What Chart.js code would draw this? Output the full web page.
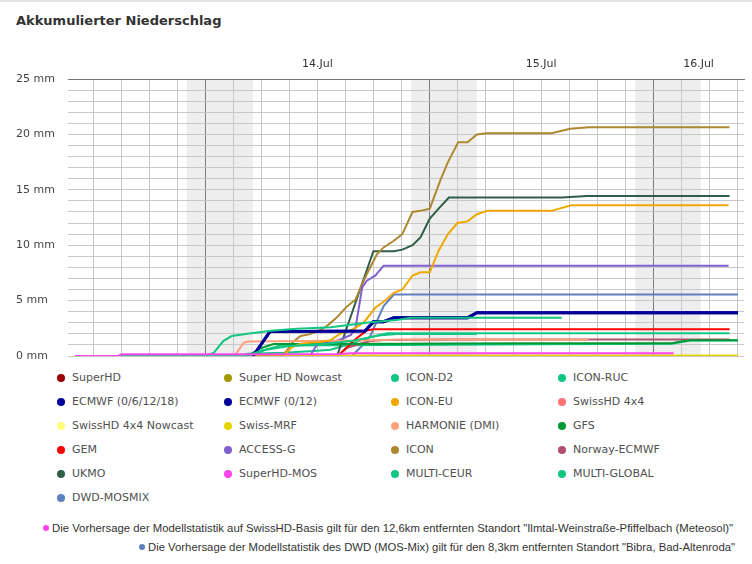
<!DOCTYPE html>
<html><head><meta charset="utf-8">
<script src="https://cdn.jsdelivr.net/npm/chart.js@4/dist/chart.umd.min.js"></script>
<style>
html,body{margin:0;padding:0;background:#fff;width:752px;height:564px;overflow:hidden;position:relative;font-family:"DejaVu Sans",sans-serif}
#topline{position:absolute;left:0;top:0;width:752px;height:2px;background:#e2e2e2}
#title{position:absolute;left:16px;top:13px;font:bold 13px/15px "DejaVu Sans",sans-serif;color:#333;white-space:nowrap}
#wrap{position:absolute;left:0;top:41px;width:752px;height:322px}
.li{position:absolute;height:14px;font:11px/14px "DejaVu Sans",sans-serif;color:#505050;white-space:nowrap}
.li i{position:absolute;left:0;top:3px;width:8px;height:8px;border-radius:50%}
.li span{position:absolute;left:15px;top:0}
.fn{position:absolute;height:14px;font:11px/14px "Liberation Sans",Arial,sans-serif;color:#333;white-space:nowrap}
.fn i{position:absolute;top:4px;width:6px;height:6px;border-radius:50%}
.fn span{position:absolute;top:0;transform-origin:0 50%;display:inline-block}
</style>
</head><body>
<div id="topline"></div>
<div id="title">Akkumulierter Niederschlag</div>
<div id="wrap"><canvas id="c"></canvas></div>
<div id="legend"></div>
<div id="notes"></div>
<script>
// time axis: hours since 13 Jul 00:00
const dayLabels = ['14.Jul', '15.Jul', '16.Jul'];
const dayStarts = [24, 48, 72];
const nightSpans = [[22.0, 29.1], [46.05, 53.1], [70.1, 77.1]];
const yTickValues = [0,1,2,3,4,5,6,7,8,9,10,11,12,13,14,15,16,17,18,19,20,21,22,23,24,25];

// series values: [hour, mm]
const SuperHD = [];
const SuperHDNowcast = [];
const ICON_D2 = [[10,0],[24,0],[24.9,0.3],[25.9,1.35],[26.8,1.8],[28.9,2.05],[31.3,2.3],[33.8,2.45],[37.4,2.6],[41.7,3.05],[44.5,3.25],[46,3.45],[62.2,3.45]];
const ICON_RUC = [[10,0],[28.5,0],[30,0.5],[33,0.9],[37,1.1],[40,1.4],[42.5,1.85],[44.5,1.98],[53.1,1.98]];
const ECMWF_6h = [[29.1,0],[30.9,2.2],[41.1,2.25],[42.0,3.1],[43.1,3.1],[44.2,3.45],[52.1,3.45],[53.1,3.9],[81.1,3.9]];
const ECMWF_12h = [[29.1,0],[30.9,2.2],[41.1,2.25],[42.0,3.1],[43.1,3.1],[44.2,3.45],[52.1,3.45],[53.1,3.9],[81.1,3.9]];
const ICON_EU = [[10,0],[32.3,0],[33.3,0.8],[34.2,1.1],[35.2,1.2],[36.1,1.25],[37.35,1.4],[38.4,2.0],[39.9,2.45],[41,3.05],[42.2,4.35],[43.1,4.9],[44.2,5.7],[45.1,6.0],[46.2,7.25],[47.05,7.55],[48.05,7.55],[49,9.5],[50,11.0],[51,12.0],[52.1,12.15],[53.1,12.8],[54.2,13.1],[61.1,13.1],[63.2,13.6],[80.1,13.6]];
const SwissHD4x4 = [];
const SwissHD4x4Nowcast = [];
const SwissMRF = [[10,0],[36,0],[40,0.05],[81.1,0.05]];
const HARMONIE = [[10,0],[27.1,0],[28.1,1.2],[28.6,1.3],[41,1.4],[45,1.48],[65.1,1.5]];
const GFS = [[10,0],[28.5,0],[29.9,0.7],[31.3,1.08],[45,1.1],[58,1.15],[74,1.15],[75,1.3],[76,1.42],[81.1,1.42]];
const GEM = [[10,0],[38.2,0],[39.9,1.4],[41.3,2.3],[42,2.42],[80.2,2.42]];
const ACCESS_G = [[10,0],[35.2,0],[36,1.1],[37,1.24],[37.75,1.24],[39.6,1.9],[40.1,2.6],[40.8,6.2],[41.3,6.8],[42.2,7.25],[43.1,8.15],[80.1,8.15]];
const ICON = [[10,0],[32.3,0],[33.4,1.3],[34.2,1.8],[35.1,1.95],[36,2.2],[37,2.7],[38.1,3.5],[39.2,4.5],[40.1,5.1],[40.8,6.5],[41.3,7.4],[42.4,9.2],[43.1,9.8],[44.2,10.4],[45.1,11.0],[46.2,13.0],[47.05,13.1],[48.05,13.3],[49.2,15.9],[50,17.5],[51.1,19.3],[52.1,19.3],[53.1,20.0],[54.1,20.1],[61.1,20.1],[63.1,20.5],[65.1,20.65],[80.2,20.65]];
const NorwayECMWF = [[10,0],[38.1,0],[39.2,0.75],[40.6,1.1],[41.7,1.35],[43.1,1.45],[50,1.5],[80.2,1.5]];
const UKMO = [[10,0],[38.1,0],[42,9.45],[44.2,9.45],[45.1,9.6],[46.2,10.0],[47.05,10.7],[48.05,12.4],[49,13.3],[50.1,14.3],[62.2,14.3],[64.9,14.45],[80.2,14.45]];
const SuperHD_MOS = [[10,0],[14.6,0],[15,0.15],[38.2,0.15],[39.5,0.25],[74.2,0.25]];
const MULTI_CEUR = [[10,0],[27.5,0],[28.5,0.2],[32.4,0.3],[35.6,0.45],[37.4,0.57],[39.5,1.09],[41.7,1.7],[43.5,2.05],[80.2,2.05]];
const MULTI_GLOBAL = [[10,0],[29,0],[30.5,0.6],[32,0.95],[45,1.0],[60,1.05],[74,1.1],[76,1.4],[81.1,1.4]];
const DWD_MOSMIX = [[10,0],[39.7,0],[41,1.1],[41.7,1.85],[42.4,3.2],[43.1,4.5],[44.2,5.55],[81.1,5.55]];

const seriesNames = ['SuperHD','Super HD Nowcast','ICON-D2','ICON-RUC','ECMWF (0/6/12/18)','ECMWF (0/12)','ICON-EU','SwissHD 4x4','SwissHD 4x4 Nowcast','Swiss-MRF','HARMONIE (DMI)','GFS','GEM','ACCESS-G','ICON','Norway-ECMWF','UKMO','SuperHD-MOS','MULTI-CEUR','MULTI-GLOBAL','DWD-MOSMIX'];
const seriesData = [SuperHD,SuperHDNowcast,ICON_D2,ICON_RUC,ECMWF_6h,ECMWF_12h,ICON_EU,SwissHD4x4,SwissHD4x4Nowcast,SwissMRF,HARMONIE,GFS,GEM,ACCESS_G,ICON,NorwayECMWF,UKMO,SuperHD_MOS,MULTI_CEUR,MULTI_GLOBAL,DWD_MOSMIX];
const seriesColors = ['#990000','#a39a00','#12c682','#12c682','#000099','#000099','#f0a800','#ff7272','#ffff7a','#e6d400','#ffa07a','#009933','#ff0000','#8060d0','#ad8830','#b0506f','#2e5e48','#ff44ee','#12c682','#12c682','#5f7fbf'];
const seriesWidths = [2,2,2,2,3,3,2,2,2,2,2,2,2,2,2,2,2,2,2,2,2];
// draw order: lower value is painted on top
const seriesOrder = [0,0,0,0,0,0,0,0,0,0,0,0,0,0,0,0,0,-1,0,0,0];

const notes = [
  {color:'#ff44ee', text:'Die Vorhersage der Modellstatistik auf SwissHD-Basis gilt für den 12,6km entfernten Standort "Ilmtal-Weinstraße-Pfiffelbach (Meteosol)"'},
  {color:'#5f7fbf', text:'Die Vorhersage der Modellstatistik des DWD (MOS-Mix) gilt für den 8,3km entfernten Standort "Bibra, Bad-Altenroda"'}
];

const X_MIN = 9.25, X_MAX = 81.75;
const gridTicks = [];
for (let h = 12; h <= 81; h += 3) gridTicks.push(h);

const nightPlugin = {
  id: 'nights',
  beforeDraw(chart) {
    const {ctx, chartArea: a, scales: {x}} = chart;
    ctx.save();
    ctx.fillStyle = '#eeeeee';
    nightSpans.forEach(([s, e]) => {
      const x0 = Math.max(a.left, x.getPixelForValue(s));
      const x1 = Math.min(a.right, x.getPixelForValue(e));
      ctx.fillRect(x0, a.top, x1 - x0, a.bottom - a.top);
    });
    ctx.restore();
  }
};

const FONT = {family: '"DejaVu Sans", sans-serif', size: 11};

const chart = new Chart(document.getElementById('c'), {
  type: 'line',
  data: {
    datasets: seriesNames.map((n, i) => ({
      label: n,
      data: seriesData[i],
      borderColor: seriesColors[i],
      backgroundColor: seriesColors[i],
      borderWidth: seriesWidths[i],
      order: seriesOrder[i],
      pointRadius: 0,
      tension: 0,
      fill: false
    }))
  },
  options: {
    responsive: true,
    maintainAspectRatio: false,
    animation: false,
    events: [],
    layout: {padding: {left: 16, right: 8, top: 0, bottom: 7}},
    plugins: {legend: {display: false}, tooltip: {enabled: false}},
    scales: {
      x: {
        type: 'linear', position: 'bottom', min: X_MIN, max: X_MAX,
        afterBuildTicks(s) { s.ticks = gridTicks.map(v => ({value: v})); },
        ticks: {display: false},
        grid: {drawTicks: false, color: c => (c.tick && c.tick.value % 24 === 0) ? '#7a7a7a' : '#c8c8c8', lineWidth: 1},
        border: {display: false}
      },
      x2: {
        type: 'linear', position: 'top', min: X_MIN, max: X_MAX,
        afterBuildTicks(s) {
          s.ticks = dayStarts.map(d => ({value: Math.min(d + 12, (d + X_MAX) / 2)}));
        },
        afterFit(s) { s.height = 38; },
        ticks: {
          font: FONT, color: '#333', padding: 8, maxRotation: 0, autoSkip: false,
          callback: (v, i) => dayLabels[i]
        },
        grid: {display: false, drawTicks: false},
        border: {display: true, color: '#777', width: 1}
      },
      y: {
        type: 'linear', min: 0, max: 25,
        afterBuildTicks(s) { s.ticks = yTickValues.map(v => ({value: v})); },
        afterFit(s) { s.width = 52; },
        ticks: {
          font: FONT, color: '#444', padding: 0, crossAlign: 'far', autoSkip: false,
          callback: v => (v % 5 === 0 ? v + ' mm' : '')
        },
        grid: {drawTicks: false, color: c => (c.tick && c.tick.value === 25) ? '#777' : '#c8c8c8'},
        border: {display: false}
      }
    }
  },
  plugins: [nightPlugin]
});

// HTML legend built from the chart's datasets
const legend = document.getElementById('legend');
chart.data.datasets.forEach((ds, i) => {
  const col = i % 4, row = Math.floor(i / 4);
  const d = document.createElement('div');
  d.className = 'li';
  d.style.left = (57 + col * 167) + 'px';
  d.style.top = (371 + row * 24) + 'px';
  d.innerHTML = '<i style="background:' + ds.borderColor + '"></i><span></span>';
  d.querySelector('span').textContent = ds.label;
  legend.appendChild(d);
});

// footnotes
const noteBox = document.getElementById('notes');
const noteLayout = [{dot: 46, start: 52, end: 733, top: 521}, {dot: 142, start: 148, end: 735, top: 540}];
notes.forEach((n, i) => {
  const L = noteLayout[i];
  const d = document.createElement('div');
  d.className = 'fn';
  d.style.left = '0px'; d.style.top = L.top + 'px'; d.style.width = '752px';
  d.innerHTML = '<i style="background:' + n.color + ';left:' + (L.dot - 3) + 'px"></i><span></span>';
  const sp = d.querySelector('span');
  sp.textContent = n.text;
  sp.style.left = L.start + 'px';
  noteBox.appendChild(d);
  const w = sp.getBoundingClientRect().width;
  sp.style.transform = 'scaleX(' + ((L.end - L.start) / w) + ')';
});
</script>
</body></html>
